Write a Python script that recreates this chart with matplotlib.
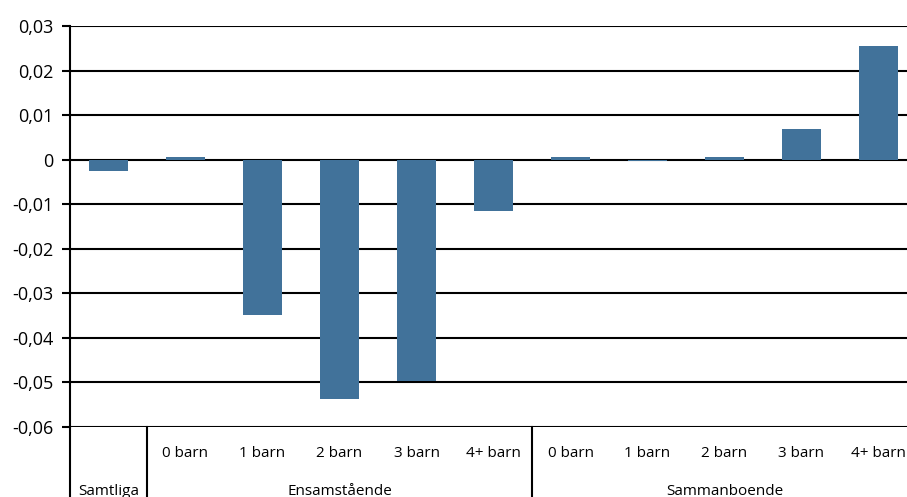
import matplotlib.pyplot as plt
import numpy as np
from matplotlib.ticker import FuncFormatter
import matplotlib.transforms as mtrans

# data
sub_labels = ["", "0 barn", "1 barn", "2 barn", "3 barn", "4+ barn",
              "0 barn", "1 barn", "2 barn", "3 barn", "4+ barn"]
values = [-0.0025, 0.0005, -0.0348, -0.0538, -0.0496, -0.0115,
          0.0005, -0.0002, 0.0005, 0.0069, 0.0256]
groups = ["Samtliga", "Ensamstående", "Sammanboende"]
group_spans = [(0, 0), (1, 5), (6, 10)]

plt.rcParams['font.family'] = ['Open Sans', 'DejaVu Sans']

fig = plt.figure(figsize=(9.07, 4.97), dpi=100)
ax = fig.add_axes([70 / 907, 1 - 427 / 497, 847 / 907, 401 / 497])

x = np.arange(len(values))
ax.bar(x, values, width=0.5, color='#41729a', zorder=3)

ax.set_xlim(-0.5, len(values) - 0.5)
ax.set_ylim(-0.06, 0.03)
ax.set_yticks(np.arange(-0.06, 0.0301, 0.01))
ax.yaxis.set_major_formatter(FuncFormatter(lambda v, p: ("%g" % round(v, 2)).replace('.', ',')))
ax.tick_params(axis='y', length=6, width=1.5, labelsize=13, pad=6)
ax.set_xticks([])
ax.grid(axis='y', color='black', linewidth=1.5, zorder=1)

for s in ['top', 'right', 'bottom']:
    ax.spines[s].set_visible(False)
ax.spines['left'].set_linewidth(1.5)

# category axis below the plot
trans = mtrans.blended_transform_factory(ax.transData, ax.transAxes)
for i, lab in enumerate(sub_labels):
    ax.text(x[i], -0.065, lab, transform=trans, ha='center', va='center',
            fontsize=11, clip_on=False)
for name, (a, b) in zip(groups, group_spans):
    ax.text((a + b) / 2, -0.16, name, transform=trans, ha='center', va='center',
            fontsize=11, clip_on=False)
for xb in [-0.5, 0.5, 5.5]:
    ax.plot([xb, xb], [0, -0.18], transform=trans, color='black',
            linewidth=1.5, clip_on=False)

fig.savefig('out.png', dpi=100)
